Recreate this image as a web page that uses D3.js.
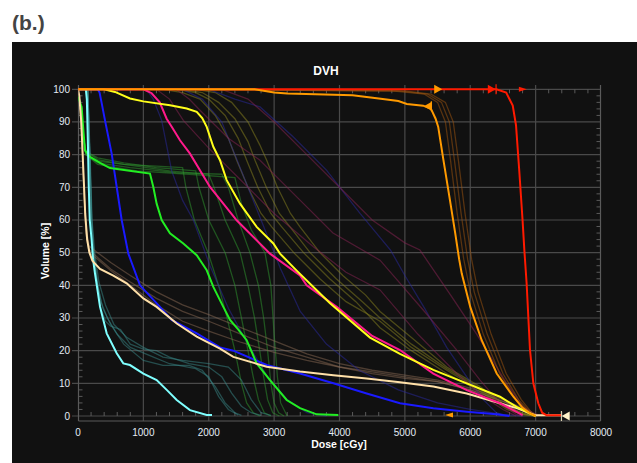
<!DOCTYPE html>
<html><head><meta charset="utf-8">
<script src="https://cdn.jsdelivr.net/npm/d3@7"></script>
<style>
html,body{margin:0;padding:0;background:#fff;}
svg{display:block;}
</style></head>
<body>
<svg id="c" width="637" height="463"></svg>
<script>
// ---------- DATA ----------
const xTicks = [0,1000,2000,3000,4000,5000,6000,7000,8000];
const yTicks = [0,10,20,30,40,50,60,70,80,90,100];
const chartTitle = "DVH";
const xLabel = "Dose [cGy]";
const yLabel = "Volume [%]";
const panelLabel = "(b.)";

// faint (secondary) curves  [dose cGy, volume %]
const fGreen1 = [[0,98],[40,95],[80,86],[120,80],[300,78],[700,77],[1200,76.5],[1600,76],[1650,70],[1780,60],[1990,50],[2150,40],[2280,30],[2400,20],[2500,10],[2580,4],[2680,1],[2780,0]];
const fGreen2 = [[0,98],[40,95],[80,86],[120,81],[300,79],[700,77.5],[1200,76],[1800,75],[1850,70],[2000,60],[2250,50],[2400,40],[2500,30],[2600,20],[2680,12],[2760,5],[2850,1],[2950,0]];
const fGreen3 = [[0,98],[40,95],[80,86],[120,81],[300,78.5],[700,77],[1400,75],[2000,74],[2080,70],[2250,60],[2480,50],[2600,40],[2700,30],[2780,20],[2840,12],[2900,5],[2980,1],[3080,0]];
const fGreen4 = [[0,98],[40,95],[80,86],[120,80],[300,77.5],[800,76],[1500,74.5],[2200,74],[2300,70],[2450,60],[2630,50],[2760,40],[2840,30],[2900,20],[2950,10],[3000,4],[3070,1],[3150,0]];
const fGreen5 = [[0,98],[40,95],[80,86],[120,80],[300,77],[900,75],[1700,74],[2400,73],[2500,65],[2650,57],[2860,50],[2950,40],[3000,25],[3050,12],[3100,4],[3200,0]];

const fTeal1 = [[0,100],[150,100],[180,80],[200,62],[220,52],[260,46],[300,40],[350,33],[420,29],[500,27.5],[650,26.5],[800,22],[1000,20.5],[1200,20],[1400,18],[1700,16],[2000,15],[2200,12],[2350,7],[2500,3],[2650,1],[2800,0.2]];
const fTeal2 = [[0,100],[150,100],[180,80],[210,60],[240,50],[290,42],[350,35],[450,30],[600,25],[800,21],[1100,18.5],[1400,16],[1800,14.5],[2000,12],[2150,6],[2300,2],[2450,0.3]];
const fTeal3 = [[0,100],[150,100],[180,80],[210,60],[250,48],[300,40],[380,33],[500,28],[700,22],[1000,17],[1300,15.5],[1700,15.5],[1900,14],[2100,9],[2250,4],[2400,1],[2500,0.2]];
const fTeal4 = [[0,100],[150,100],[185,80],[215,60],[255,50],[320,41],[420,34],[550,28],[750,24],[1000,21],[1300,18],[1600,17],[2000,16],[2300,15],[2500,11],[2650,5],[2800,1],[2950,0.2]];

const fBrown1 = [[0,100],[30,96],[60,85],[90,70],[120,58],[170,52],[300,50],[500,47],[800,43],[1200,38],[1600,34],[2000,31],[2500,27],[3000,23],[3500,19],[4000,16],[4500,14],[5000,12.5],[5500,11],[6000,8.5],[6500,5],[6800,2.5],[7000,0.5]];
const fBrown2 = [[0,100],[30,96],[60,85],[90,70],[120,57],[170,51],[300,48.5],[500,45],[800,41],[1200,36],[1600,32],[2000,29],[2500,25],[3000,21],[3500,18],[4000,15],[4500,13],[5000,11.5],[5500,10.5],[6000,8],[6500,4.5],[6800,2],[7000,0.3]];
const fBrown3 = [[0,100],[30,96],[60,85],[90,70],[120,56],[170,50],[300,48],[500,44.5],[800,40],[1200,34],[1600,29],[2000,26],[2500,22.5],[3000,19.5],[3500,17],[4000,15],[4500,13.5],[5000,12],[5500,10.5],[6000,8],[6500,4.5],[6800,2],[7000,0.3]];

const fOlive1 = [[0,100],[1300,100],[1600,99],[1866,97],[2100,92],[2300,85],[2427,78.3],[2600,70],[2800,62],[2963,57.9],[3300,50],[3700,42],[4100,35],[4620,29],[5100,21],[5640,14],[6150,8],[6557,2.5],[6800,0.5],[7000,0]];
const fOlive2 = [[0,100],[1500,100],[1800,99],[2000,97],[2250,92],[2450,85],[2580,78.3],[2750,70],[2950,62],[3116,57.9],[3450,50],[3850,42],[4250,35],[4620,27],[5100,20],[5640,13],[6150,7.5],[6557,2],[6800,0.5],[7000,0]];
const fOlive3 = [[0,100],[1600,100],[1900,99],[2150,96],[2400,91],[2600,84],[2707,78.3],[2880,70],[3080,62],[3243,57.9],[3550,50],[3950,42],[4350,35],[4620,30],[5100,22],[5640,14.5],[6150,8.5],[6557,3],[6800,0.8],[7000,0]];
const fOlive4 = [[0,100],[1800,100],[2100,99],[2350,96],[2600,90],[2780,83],[2886,78.3],[3050,70],[3250,62],[3396,57.9],[3700,50],[4050,43],[4400,37],[4620,32],[5100,24],[5640,15],[6150,9],[6557,3],[6800,1],[7000,0]];

const fNavy1 = [[0,100],[1050,100],[1150,97],[1280,90.5],[1433,75],[1600,66],[1764,60],[2019,46],[2300,33],[2600,22],[2900,12],[3200,5],[3500,1],[3800,0]];
const fNavy2 = [[0,100],[1600,100],[1900,97],[2200,90],[2500,75],[2800,60],[3100,45],[3400,32],[3800,22],[4300,14],[4900,8],[5500,4],[6000,2],[6500,0.5],[6800,0]];
const fNavy3 = [[0,100],[2000,100],[2400,97],[2784,94.6],[3294,85.4],[3804,75.2],[4314,62],[4780,50.8],[5000,43],[5300,33],[5640,21],[5946,12],[6200,5],[6400,1],[6550,0]];

const fMaroon1 = [[0,100],[1200,100],[1400,97],[1611,90.5],[2000,82],[2500,72],[3000,62],[3600,51.8],[4100,44],[4620,38.6],[5200,25],[5793,13],[6200,6],[6500,2],[6700,0]];
const fMaroon2 = [[0,100],[1500,100],[1700,97],[1866,93.6],[2300,85],[2784,78.3],[3300,68],[3900,56],[4620,47.7],[5300,32],[5800,20],[6150,11],[6450,4],[6700,0.5],[6800,0]];
const fMaroon3 = [[0,100],[2200,100],[2600,97],[3000,90],[3500,80],[4000,70],[4500,60],[5000,53],[5230,50.8],[5700,37],[6100,25],[6557,10],[6800,3],[6965,0.9],[7100,0]];

const fOrange1 = [[0,100],[4800,99.5],[5300,98.5],[5500,96],[5620,90],[5700,78],[5800,62],[5900,48],[6000,38],[6200,25],[6450,13],[6700,5],[6900,1],[7000,0]];
const fOrange2 = [[0,100],[4900,99.5],[5350,98.5],[5560,96],[5680,90],[5760,78],[5860,62],[5960,48],[6060,38],[6260,25],[6500,13],[6740,5],[6920,1],[7020,0]];
const fOrange3 = [[0,100],[5000,99.5],[5400,98.5],[5620,96],[5740,90],[5820,78],[5920,62],[6020,48],[6120,38],[6320,25],[6550,13],[6780,5],[6940,1],[7040,0]];

// bright (primary) curves
const blueDVH = [[0,100],[300,100],[330,99],[360,96],[413,90.5],[515,80.3],[592,70.1],[668,60],[770,49.7],[948,40],[1254,33.4],[1433,29.4],[1816,25.3],[2172,21],[2376,20],[2886,15.6],[3396,13],[3906,10],[4416,6.9],[4925,3.9],[5435,2.4],[5946,1.3],[6400,0.5],[6600,0]];
const greenDVH = [[0,97.6],[30,96],[56,94.6],[80,88],[107,81.3],[184,79.3],[337,77.5],[489,75.9],[842,74.9],[1101,74.2],[1152,70.1],[1203,65],[1280,60],[1407,55.9],[1611,52.8],[1816,49.2],[1969,44.6],[2070,39.5],[2223,33.4],[2325,29.4],[2450,26.5],[2580,23.2],[2733,16.1],[2937,11],[3192,4.9],[3396,2.4],[3651,0.5],[3982,0.3]];
const cyanDVH = [[0,100],[120,100],[135,97],[150,85],[165,70],[180,60],[209,53.8],[230,48],[260,43.6],[337,33.4],[439,25.3],[592,19.2],[693,16.1],[795,15.6],[1000,13],[1203,11],[1357,8],[1510,4.9],[1713,1.8],[1969,0.3],[2050,0.3]];
const beigeDVH = [[0,100],[20,98],[50,90],[80,76],[110,62],[140,54],[175,50],[220,47.5],[337,45],[540,43],[744,40.6],[1000,36],[1203,33.4],[1510,28.3],[1816,24.3],[2172,20.6],[2376,18.1],[2886,15.1],[3396,13.6],[3906,12.5],[4416,11.5],[4925,10.3],[5435,9],[5946,6.9],[6455,3.9],[6710,2.4],[6914,0.8],[7000,0.2],[7400,0.2]];
const pinkDVH = [[0,100],[1000,100],[1127,98.8],[1250,96],[1356,91],[1450,88],[1560,84.4],[1713,80.3],[2019,70.1],[2427,59.9],[2937,49.7],[3396,43],[3498,40],[3957,33.4],[4500,24.5],[4925,20.2],[5435,13],[5946,7.9],[6455,3.9],[6659,1.8],[6800,0.3]];
const yellowDVH = [[0,100],[400,100],[566,99.2],[795,97.2],[1000,96.3],[1407,95.1],[1663,94.1],[1816,93.1],[1900,91.2],[1969,88.5],[2070,82.4],[2172,78.3],[2274,72.2],[2478,65],[2733,57.9],[2988,52.8],[3090,49.7],[3345,44.5],[3651,38.5],[3855,34.5],[4467,24],[4925,19],[5435,14.1],[5946,10],[6455,5.9],[6710,2.8],[6914,0.8],[7000,0]];
const orangeDVH = [[0,100],[2700,100],[3000,99],[3200,98.7],[4200,98.2],[4600,97.2],[4900,96.4],[5030,95.5],[5280,95],[5400,94],[5470,91],[5510,88.5],[5590,78.3],[5690,66],[5770,56],[5830,48],[5870,43.6],[6000,33.4],[6175,23.2],[6405,13],[6660,5.9],[6800,2.5],[6914,0.8],[7000,0]];
const redDVH = [[0,100],[6400,100],[6550,99],[6650,95],[6700,89],[6750,75],[6800,60],[6830,50],[6862,40.7],[6914,20.2],[6965,10],[7041,3.9],[7100,1],[7169,0.2],[7400,0.2]];

// markers [dose, volume, direction, colour]
const markerBig = [[5510,100,"right","#ff9a00"],[6330,100,"right","#ff1a00"],[5350,94.8,"left","#ff9a00"],[7460,0,"left","#fff2c8"]];
const markerSmall = [[6805,100,"right","#ff1a00"],[5675,0.3,"left","#ff9a00"]];
const markerBars = [[6395,100,"#ff1a00"],[5405,94.8,"#ff9a00"],[7395,0,"#d8cfae"]];

// ---------- DRAW ----------
const svg = d3.select("#c");
svg.append("rect").attr("x",12).attr("y",42).attr("width",625).attr("height",421).attr("fill","#111111");
svg.append("text").attr("x",12).attr("y",30).text(panelLabel)
  .attr("font-family","'Liberation Sans', Arial, sans-serif").attr("font-weight","bold")
  .attr("font-size",21).attr("fill","#444");

const x = d3.scaleLinear().domain([0,8000]).range([78,601]);
const y = d3.scaleLinear().domain([0,100]).range([416,89.3]);
const pTop = 85, pBottom = 421, pLeft = 78.5, pRight = 600.5;

const g = svg.append("g");
// grid
g.selectAll(".vg").data(xTicks.slice(1,-1)).join("line")
  .attr("x1",d=>x(d)).attr("x2",d=>x(d)).attr("y1",pTop).attr("y2",pBottom)
  .attr("stroke","#4a4a4a").attr("stroke-width",1.2);
g.selectAll(".hg").data(yTicks).join("line")
  .attr("x1",72).attr("x2",pRight).attr("y1",d=>y(d)).attr("y2",d=>y(d))
  .attr("stroke","#4a4a4a").attr("stroke-width",1.2);
// frame
g.append("line").attr("x1",pLeft).attr("x2",pLeft).attr("y1",pTop).attr("y2",pBottom).attr("stroke","#5a5a5a").attr("stroke-width",1.2);
g.append("line").attr("x1",pRight).attr("x2",pRight).attr("y1",pTop).attr("y2",pBottom).attr("stroke","#5a5a5a").attr("stroke-width",1.2);
g.append("line").attr("x1",pLeft).attr("x2",pRight).attr("y1",pBottom).attr("y2",pBottom).attr("stroke","#5a5a5a").attr("stroke-width",1.2);
// minor ticks
const xMinor = d3.range(200,8000,200).filter(v=>v%1000!==0);
const yMinor = d3.range(2,100,2).filter(v=>v%10!==0);
g.selectAll(".xm").data(xMinor).join("line").attr("x1",d=>x(d)).attr("x2",d=>x(d)).attr("y1",y(0)).attr("y2",y(0)-4).attr("stroke","#5a5a5a");
g.selectAll(".xt").data(xMinor).join("line").attr("x1",d=>x(d)).attr("x2",d=>x(d)).attr("y1",y(100)).attr("y2",y(100)+4).attr("stroke","#5a5a5a");
g.selectAll(".ym").data(yMinor).join("line").attr("x1",pLeft).attr("x2",pLeft+4).attr("y1",d=>y(d)).attr("y2",d=>y(d)).attr("stroke","#5a5a5a");
g.selectAll(".yr").data(yMinor).join("line").attr("x1",pRight).attr("x2",pRight-4).attr("y1",d=>y(d)).attr("y2",d=>y(d)).attr("stroke","#5a5a5a");

// tick labels
const tickFont = "'Liberation Sans', Arial, sans-serif";
g.selectAll(".xl").data(xTicks).join("text")
  .attr("x",d=>x(d)).attr("y",436).attr("text-anchor","middle")
  .attr("font-family",tickFont).attr("font-size",10).attr("fill","#e4ecf6").text(d=>d);
g.selectAll(".yl").data(yTicks).join("text")
  .attr("x",70).attr("y",d=>y(d)+3.5).attr("text-anchor","end")
  .attr("font-family",tickFont).attr("font-size",10).attr("fill","#e4ecf6").text(d=>d);

svg.append("text").attr("x",326).attr("y",75).attr("text-anchor","middle")
  .attr("font-family",tickFont).attr("font-weight","bold").attr("font-size",12).attr("fill","#fff").text(chartTitle);
svg.append("text").attr("x",339).attr("y",448).attr("text-anchor","middle")
  .attr("font-family",tickFont).attr("font-weight","bold").attr("font-size",10.5).attr("fill","#fff").text(xLabel);
svg.append("text").attr("transform","translate(49,251) rotate(-90)").attr("text-anchor","middle")
  .attr("font-family",tickFont).attr("font-weight","bold").attr("font-size",10.5).attr("fill","#fff").text(yLabel);

// curves
const line = d3.line().x(d=>x(d[0])).y(d=>y(d[1]));
svg.append("clipPath").attr("id","pc").append("rect")
  .attr("x",pLeft).attr("y",pTop).attr("width",pRight-pLeft).attr("height",pBottom-pTop);
const cg = svg.append("g").attr("clip-path","url(#pc)");

const faint = [
  [fGreen1,"#2f9a2f"],[fGreen2,"#2f9a2f"],[fGreen3,"#2f9a2f"],[fGreen4,"#2f9a2f"],[fGreen5,"#2f9a2f"],
  [fTeal1,"#3a8a8a"],[fTeal2,"#3a8a8a"],[fTeal3,"#3a8a8a"],[fTeal4,"#3a8a8a"],
  [fBrown1,"#8a6a54"],[fBrown2,"#8a6a54"],[fBrown3,"#8a6a54"],
  [fOlive1,"#8a8420"],[fOlive2,"#8a8420"],[fOlive3,"#8a8420"],[fOlive4,"#8a8420"],
  [fNavy1,"#2a2aa0"],[fNavy2,"#2a2aa0"],[fNavy3,"#2a2aa0"],
  [fMaroon1,"#8a2454"],[fMaroon2,"#8a2454"],[fMaroon3,"#8a2454"],
  [fOrange1,"#a05510"],[fOrange2,"#a05510"],[fOrange3,"#a05510"]
];
cg.selectAll(".faint").data(faint).join("path")
  .attr("d",d=>line(d[0])).attr("fill","none").attr("stroke",d=>d[1])
  .attr("stroke-width",1.3).attr("opacity",0.5);

const bright = [
  [blueDVH,"#1a1aff"],[greenDVH,"#22ee22"],[cyanDVH,"#7fffff"],[beigeDVH,"#ffe0a8"],
  [pinkDVH,"#ff1a8c"],[yellowDVH,"#ffff1a"],[redDVH,"#ff1a00"],[orangeDVH,"#ff9a00"]
];
cg.selectAll(".bright").data(bright).join("path")
  .attr("d",d=>line(d[0])).attr("fill","none").attr("stroke",d=>d[1])
  .attr("stroke-width",2);

// markers
function tri(cx,cy,dir,w,h){
  if(dir==="right") return `M${cx-w/2},${cy-h/2}L${cx+w/2},${cy}L${cx-w/2},${cy+h/2}Z`;
  return `M${cx+w/2},${cy-h/2}L${cx-w/2},${cy}L${cx+w/2},${cy+h/2}Z`;
}
svg.selectAll(".mb").data(markerBars).join("line")
  .attr("x1",d=>x(d[0])).attr("x2",d=>x(d[0])).attr("y1",d=>y(d[1])-5).attr("y2",d=>y(d[1])+5)
  .attr("stroke",d=>d[2]).attr("stroke-width",1.2);
svg.selectAll(".mk").data(markerBig).join("path")
  .attr("d",d=>tri(x(d[0]),y(d[1]),d[2],8,9)).attr("fill",d=>d[3]);
svg.selectAll(".ms").data(markerSmall).join("path")
  .attr("d",d=>tri(x(d[0]),y(d[1]),d[2],8,5)).attr("fill",d=>d[3]);
</script>
</body></html>
